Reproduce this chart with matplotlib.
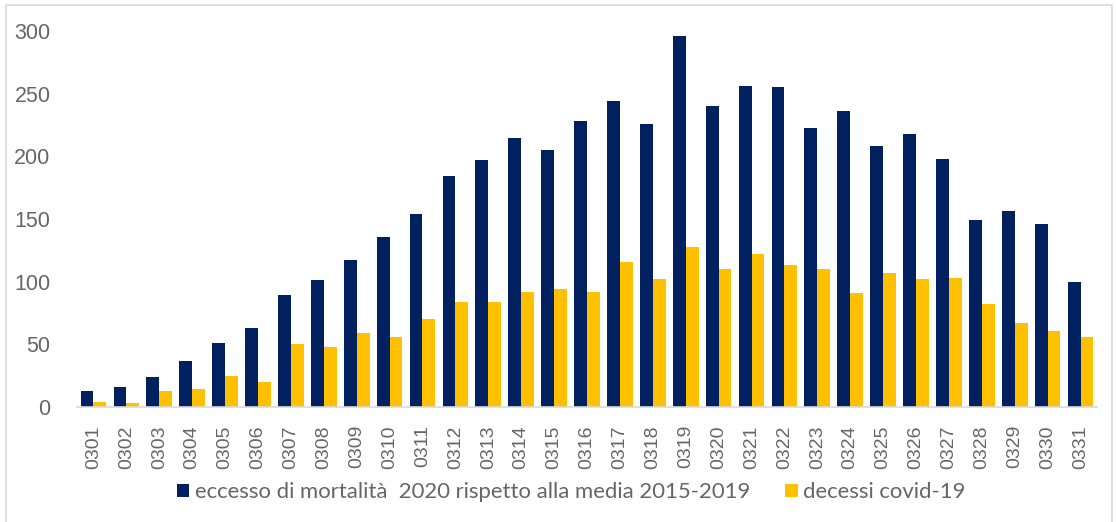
import matplotlib
matplotlib.use("Agg")
import matplotlib.pyplot as plt
from matplotlib.patches import Rectangle
import numpy as np

# daily data, march 2020
days = ["0301", "0302", "0303", "0304", "0305", "0306", "0307", "0308", "0309", "0310",
        "0311", "0312", "0313", "0314", "0315", "0316", "0317", "0318", "0319", "0320",
        "0321", "0322", "0323", "0324", "0325", "0326", "0327", "0328", "0329", "0330", "0331"]
eccesso = [13, 16, 24, 37, 51, 63, 89, 101, 117, 136,
           154, 184, 197, 215, 205, 228, 244, 226, 296, 240,
           256, 255, 223, 236, 208, 218, 198, 149, 156, 146, 100]
covid = [4, 3, 13, 14, 25, 20, 50, 48, 59, 56,
         70, 84, 84, 92, 94, 92, 116, 102, 128, 110,
         122, 113, 110, 91, 107, 102, 103, 82, 67, 61, 56]
labels = ["eccesso di mortalità  2020 rispetto alla media 2015-2019", "decessi covid-19"]

navy = "#002060"
gold = "#ffc000"
grey = "#666666"

fig = plt.figure(figsize=(11.16, 5.22), dpi=100)
ax = fig.add_axes([77 / 1116, 115 / 522, 1020 / 1116, 376 / 522])

x = np.arange(len(days))
w = 0.39
b1 = ax.bar(x - w / 2, eccesso, w, color=navy, label=labels[0])
b2 = ax.bar(x + w / 2, covid, w, color=gold, label=labels[1])

ax.set_xlim(-0.5, len(days) - 0.5)
ax.set_ylim(0, 300)
ax.set_yticks(range(0, 301, 50))
ax.set_xticks(x)
ax.set_xticklabels(days, rotation=90, fontfamily="Liberation Sans", fontsize=14, color=grey)
for t in ax.get_yticklabels():
    t.set_fontfamily("Liberation Sans")
    t.set_fontsize(15.5)
    t.set_color(grey)
ax.tick_params(axis="y", length=0, pad=19)
ax.tick_params(axis="x", length=0, pad=13)
for s in ["top", "right", "left"]:
    ax.spines[s].set_visible(False)
ax.spines["bottom"].set_color("#d9d9d9")
ax.spines["bottom"].set_linewidth(1.2)

leg = fig.legend(handles=[b1, b2], loc="center", bbox_to_anchor=(0.512, 1 - 492 / 522),
                 ncol=2, frameon=False, handlelength=0.55, handleheight=0.55,
                 handletextpad=0.25, columnspacing=1.6,
                 prop={"family": "Lato", "size": 15.9})
for t in leg.get_texts():
    t.set_color(grey)

# light frame around the chart
fig.patches.append(Rectangle((6 / 1116, -0.1), 1106 / 1116, 1.1 - 5 / 522, transform=fig.transFigure,
                             fill=False, edgecolor="#d9d9d9", linewidth=1.2))

fig.savefig("out.png", dpi=100)
